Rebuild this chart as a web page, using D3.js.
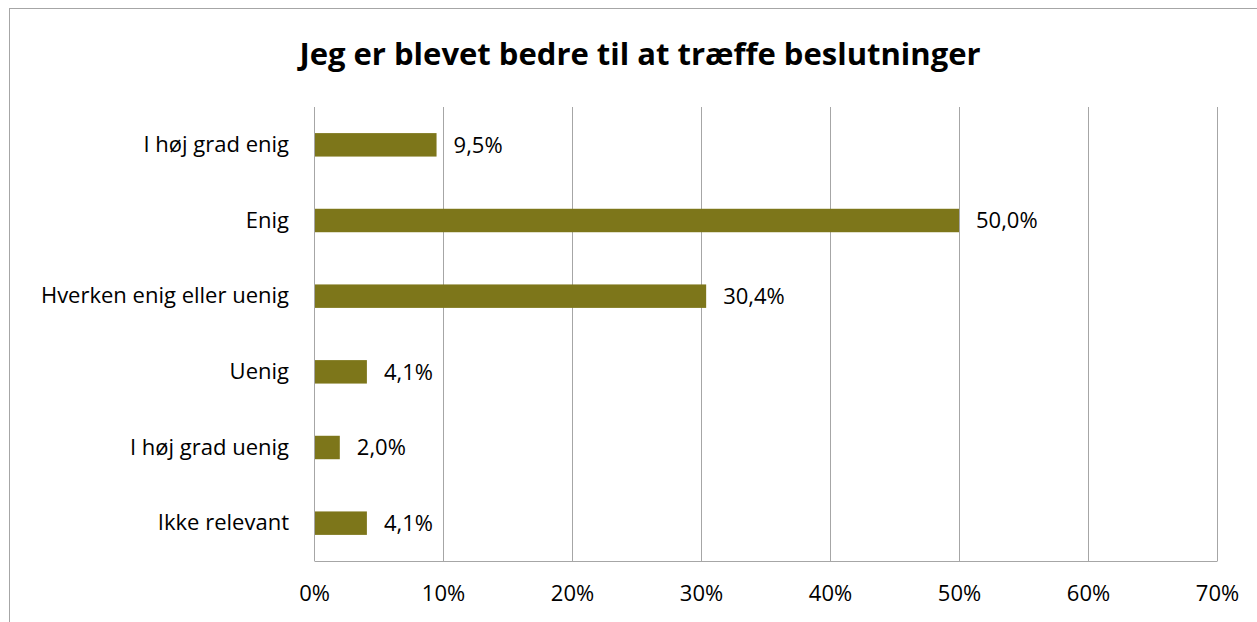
<!DOCTYPE html>
<html>
<head>
<meta charset="utf-8">
<script src="https://cdn.jsdelivr.net/npm/d3@7"></script>
<style>
  body { margin: 0; background: #fff; }
  svg { font-family: "Open Sans", "Noto Sans", sans-serif; }
</style>
</head>
<body>
<div class="barchart"></div>
<script>
const categories = ["I høj grad enig", "Enig", "Hverken enig eller uenig", "Uenig", "I høj grad uenig", "Ikke relevant"];
const values = [9.5, 50.0, 30.4, 4.1, 2.0, 4.1];
const ticks = [0, 10, 20, 30, 40, 50, 60, 70];
const title = "Jeg er blevet bedre til at træffe beslutninger";

const W = 1257, H = 622;
const margin = {top: 107, right: 40, bottom: 61, left: 314};
const width = W - margin.left - margin.right;
const height = H - margin.top - margin.bottom;
const fontSize = "22px";

const svg = d3.select('.barchart')
    .append('svg')
    .attr('width', W)
    .attr('height', H);

// outer frame
svg.append("rect")
    .attr("x", 9.5).attr("y", 8.5)
    .attr("width", W + 10).attr("height", H + 10)
    .attr("fill", "none")
    .attr("stroke", "#a6a6a6");

svg.append("text")
    .attr("x", 640).attr("y", 65)
    .attr("text-anchor", "middle")
    .style("font-size", "31px")
    .style("font-weight", "bold")
    .text(title);

const g = svg.append("g")
    .attr("transform", "translate(" + margin.left + "," + margin.top + ")");

const x = d3.scaleLinear().domain([0, 70]).range([0, width]);
const y = d3.scaleBand().domain(categories).range([0, height]).paddingInner(0.69).paddingOuter(0.345);

// gridlines
g.selectAll(".grid")
    .data(ticks)
    .enter()
    .append("line")
    .attr("x1", d => Math.round(x(d)) + 0.5)
    .attr("x2", d => Math.round(x(d)) + 0.5)
    .attr("y1", 0)
    .attr("y2", height)
    .attr("stroke", "#a6a6a6");

// x axis
const xAxis = g.append("g")
    .attr("transform", "translate(0," + height + ")")
    .call(d3.axisBottom(x).tickValues(ticks).tickFormat(d => d + "%").tickSize(0).tickPadding(24));
xAxis.select(".domain").attr("stroke", "#a6a6a6");
xAxis.selectAll("text").style("font-size", fontSize).attr("fill", "#000").style("font-family", "Open Sans");

// y axis labels
const yAxis = g.append("g")
    .call(d3.axisLeft(y).tickSize(0).tickPadding(25));
yAxis.select(".domain").remove();
yAxis.selectAll("text").style("font-size", fontSize).attr("fill", "#000").style("font-family", "Open Sans");

// bars
g.selectAll(".bar")
    .data(values)
    .enter()
    .append("rect")
    .attr("class", "bar")
    .attr("x", 1)
    .attr("y", (d, i) => y(categories[i]))
    .attr("width", d => x(d) - 1)
    .attr("height", y.bandwidth())
    .attr("fill", "#7d761a");

// value labels
g.selectAll(".lbl")
    .data(values)
    .enter()
    .append("text")
    .attr("x", d => x(d) + 17)
    .attr("y", (d, i) => y(categories[i]) + y.bandwidth() / 2)
    .attr("dy", "0.35em")
    .style("font-size", fontSize)
    .text(d => d.toFixed(1).replace(".", ",") + "%");
</script>
</body>
</html>
